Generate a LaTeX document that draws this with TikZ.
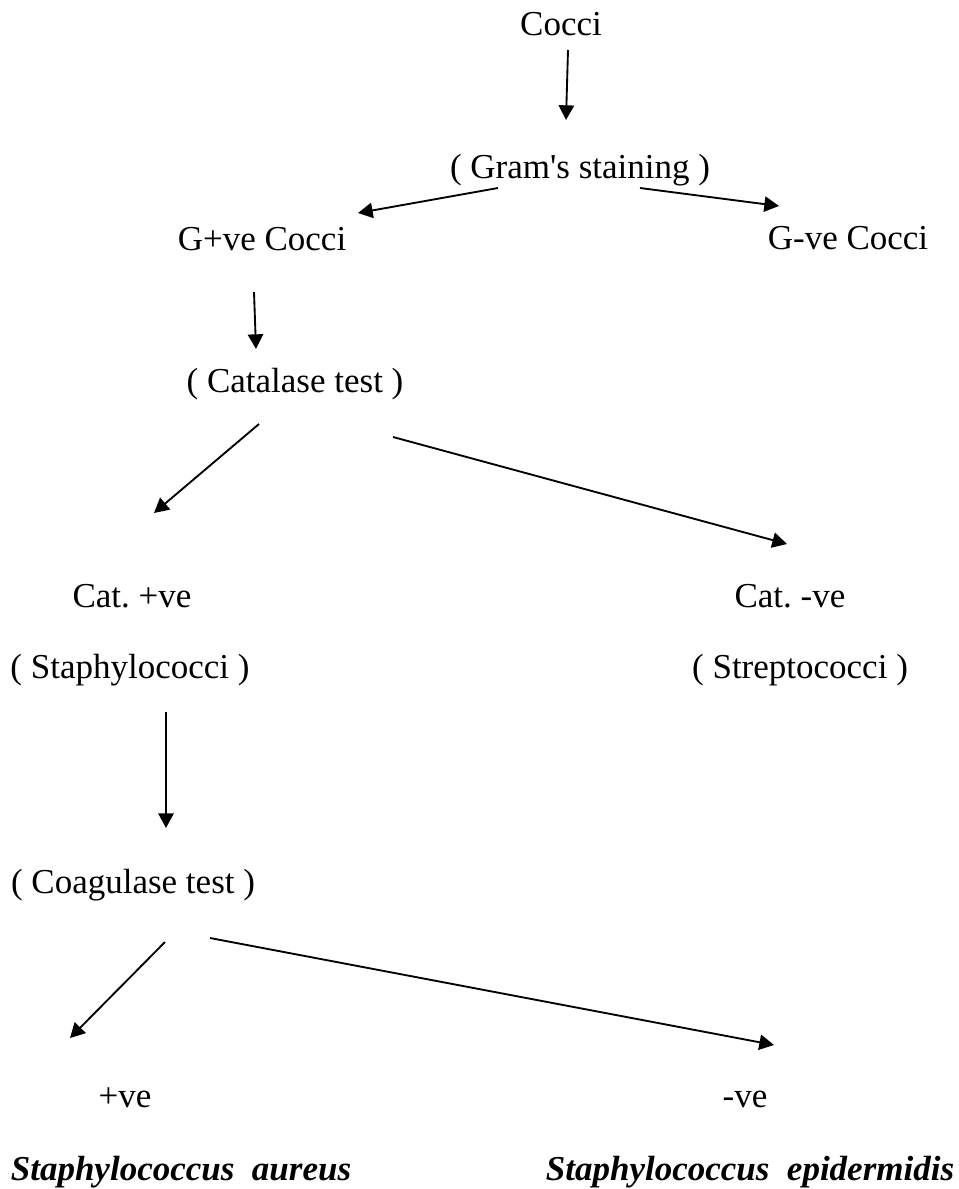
\documentclass[tikz,border=0pt]{standalone}
\usepackage{fontspec}
\setmainfont{Liberation Serif}
\usetikzlibrary{arrows.meta}
\frenchspacing

\begin{document}
\begin{tikzpicture}[x=0.75pt, y=-0.75pt,
		lbl/.style={inner sep=0pt, anchor=base, font=\fontsize{26.25pt}{31pt}\selectfont},
		sp/.style={lbl, font=\fontsize{26.25pt}{31pt}\selectfont\bfseries\itshape},
		arr/.style={line width=1.4pt, -{Triangle[length=11pt, width=11.5pt]}}]
		%%%%% START %%%%%
		
		\useasboundingbox (0, 0) rectangle (958, 1189);
		
		\node[lbl] (cocci) at (561, 35) {Cocci};
		\node[lbl] (gram) at (580, 178) {( Gram\textquotesingle s staining )};
		\node[lbl] (gpos) at (262, 250) {G+ve Cocci};
		\node[lbl] (gneg) at (848, 249) {G-ve Cocci};
		\node[lbl] (catalase) at (295, 392) {( Catalase test )};
		
		\node[lbl] (catpos) at (132, 607) {Cat. +ve};
		\node[lbl] (catneg) at (790, 607) {Cat. -ve};
		\node[lbl] (staphylo) at (130, 678) {( Staphylococci )};
		\node[lbl] (strepto) at (800, 678) {( Streptococci )};
		
		\node[lbl] (coag) at (133, 893) {( Coagulase test )};
		\node[lbl] (pos) at (125, 1107) {+ve};
		\node[lbl] (neg) at (745, 1107) {-ve};
		\node[sp] (aureus) at (181, 1180) {Staphylococcus\ \ aureus};
		\node[sp] (epid) at (750, 1180) {Staphylococcus\ \ epidermidis};
		
		% arrow ends
		\coordinate (cocci-s) at (568, 50);
		\coordinate (gram-n) at (566, 120);
		\coordinate (gram-sw) at (498, 188);
		\coordinate (gram-se) at (640, 188);
		\coordinate (gpos-n) at (358, 213);
		\coordinate (gneg-n) at (779, 206);
		\coordinate (gpos-s) at (254, 292);
		\coordinate (catalase-n) at (256, 349);
		\coordinate (catalase-sw) at (259, 424);
		\coordinate (catalase-se) at (393, 437);
		\coordinate (catpos-n) at (154, 513);
		\coordinate (catneg-n) at (787, 544);
		\coordinate (staphylo-s) at (166, 712);
		\coordinate (coag-n) at (166, 828);
		\coordinate (coag-sw) at (165, 942);
		\coordinate (coag-se) at (210, 938);
		\coordinate (pos-n) at (70, 1038);
		\coordinate (neg-n) at (774, 1045);
		
		\draw[arr] (cocci-s) -- (gram-n);
		\draw[arr] (gram-sw) -- (gpos-n);
		\draw[arr] (gram-se) -- (gneg-n);
		\draw[arr] (gpos-s) -- (catalase-n);
		\draw[arr] (catalase-sw) -- (catpos-n);
		\draw[arr] (catalase-se) -- (catneg-n);
		\draw[arr] (staphylo-s) -- (coag-n);
		\draw[arr] (coag-sw) -- (pos-n);
		\draw[arr] (coag-se) -- (neg-n);
		
		%%%%% END %%%%%
	\end{tikzpicture}
\end{document}
